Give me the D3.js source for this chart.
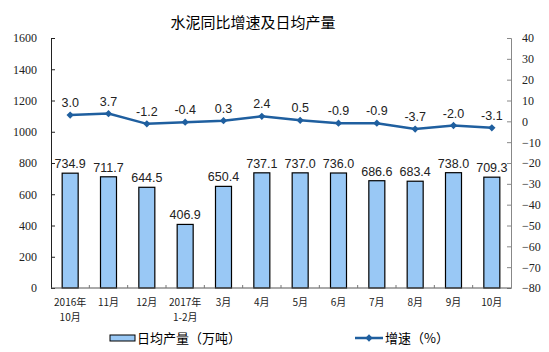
<!DOCTYPE html>
<html><head><meta charset="utf-8">
<script src="https://cdn.jsdelivr.net/npm/d3@7"></script>
<style>
body{margin:0;background:#fff;}
svg{display:block;}
</style></head>
<body>
<svg id="chart" width="549" height="352"></svg>
<script>
const title = "水泥同比增速及日均产量";
const categories = [["2016年","10月"],["11月"],["12月"],["2017年","1-2月"],["3月"],["4月"],["5月"],["6月"],["7月"],["8月"],["9月"],["10月"]];
const output = [734.9, 711.7, 644.5, 406.9, 650.4, 737.1, 737.0, 736.0, 686.6, 683.4, 738.0, 709.3];
const growth = [3.0, 3.7, -1.2, -0.4, 0.3, 2.4, 0.5, -0.9, -0.9, -3.7, -2.0, -3.1];
const leftTicks = [0, 200, 400, 600, 800, 1000, 1200, 1400, 1600];
const rightTicks = [-80, -70, -60, -50, -40, -30, -20, -10, 0, 10, 20, 30, 40];
const legendBar = "日均产量（万吨）";
const legendLine = "增速（%）";

const svg = d3.select("#chart");
const L = 51, R = 511, T = 38, B = 288;
const cjk = "'Noto Sans CJK SC', sans-serif";
const num = "'Liberation Serif', 'Times New Roman', serif";
const sans = "'Liberation Sans', Arial, sans-serif";

const xb = d3.scaleBand().domain(d3.range(categories.length)).range([L, R]);
const yL = d3.scaleLinear().domain([0, 1600]).range([B, T]);
const yR = d3.scaleLinear().domain([-80, 40]).range([B, T]);
const cx = i => xb(i) + xb.bandwidth() / 2;

svg.append("text").attr("x", 253).attr("y", 28).attr("text-anchor", "middle")
  .style("font-family", cjk).style("font-size", "15px").attr("fill", "#000").text(title);

// bars
svg.append("g").selectAll("rect").data(output).join("rect")
  .attr("x", (d, i) => cx(i) - 8)
  .attr("width", 16)
  .attr("y", d => yL(d)).attr("height", d => B - yL(d))
  .attr("fill", "#99c8f5").attr("stroke", "#000").attr("stroke-width", 1.2);

// left axis
const gL = svg.append("g").attr("transform", `translate(${L},0)`)
  .call(d3.axisLeft(yL).tickValues(leftTicks).tickSize(-4).tickPadding(14).tickFormat(d3.format("d")));
gL.select(".domain").attr("stroke", "#222");
gL.selectAll(".tick line").attr("stroke", "#222");
gL.selectAll("text").style("font-family", num).style("font-size", "12px").attr("fill", "#222");

// right axis
const gR = svg.append("g").attr("transform", `translate(${R},0)`)
  .call(d3.axisRight(yR).tickValues(rightTicks).tickSize(-4).tickPadding(11));
gR.select(".domain").attr("stroke", "#888");
gR.selectAll(".tick line").attr("stroke", "#888");
gR.selectAll("text").style("font-family", num).style("font-size", "12px").attr("fill", "#222");

// bottom axis
svg.append("line").attr("x1", L).attr("x2", R).attr("y1", B).attr("y2", B).attr("stroke", "#555");
svg.append("g").selectAll("line").data(d3.range(1, categories.length)).join("line")
  .attr("x1", i => xb(i)).attr("x2", i => xb(i)).attr("y1", B).attr("y2", B - 3).attr("stroke", "#777");

const catLines = [];
categories.forEach((c, i) => c.forEach((s, k) => catLines.push({i, k, s})));
svg.append("g").selectAll("text").data(catLines).join("text")
  .attr("x", d => cx(d.i))
  .attr("y", d => 306 + d.k * 15).attr("text-anchor", "middle")
  .style("font-family", cjk).style("font-size", "10px").attr("fill", "#222")
  .text(d => d.s);

// bar labels
svg.append("g").selectAll("text").data(output).join("text")
  .attr("x", (d, i) => cx(i))
  .attr("y", d => yL(d) - 5).attr("text-anchor", "middle")
  .style("font-family", sans).style("font-size", "12.5px").attr("fill", "#222")
  .text(d => d.toFixed(1));

// line
const lineColor = "#1f5f9f";
svg.append("path").datum(growth)
  .attr("d", d3.line().x((d, i) => cx(i)).y(d => yR(d)))
  .attr("fill", "none").attr("stroke", lineColor).attr("stroke-width", 2.5);
svg.append("g").selectAll("path").data(growth).join("path")
  .attr("d", d3.symbol(d3.symbolDiamond2, 34)())
  .attr("transform", (d, i) => `translate(${cx(i)},${yR(d)})`)
  .attr("fill", lineColor);
svg.append("g").selectAll("text").data(growth).join("text")
  .attr("x", (d, i) => cx(i)).attr("y", d => yR(d) - 8).attr("text-anchor", "middle")
  .style("font-family", sans).style("font-size", "12.5px").attr("fill", "#222")
  .text(d => d.toFixed(1));

// legend
svg.append("rect").attr("x", 110).attr("y", 335).attr("width", 25).attr("height", 6)
  .attr("fill", "#99c8f5").attr("stroke", "#000").attr("stroke-width", 1);
svg.append("text").attr("x", 137).attr("y", 343)
  .style("font-family", cjk).style("font-size", "13px").attr("fill", "#000").text(legendBar);
svg.append("line").attr("x1", 355).attr("x2", 383).attr("y1", 338).attr("y2", 338)
  .attr("stroke", lineColor).attr("stroke-width", 2.5);
svg.append("path").attr("d", d3.symbol(d3.symbolDiamond2, 34)())
  .attr("transform", "translate(369,338)").attr("fill", lineColor);
svg.append("text").attr("x", 385).attr("y", 343)
  .style("font-family", cjk).style("font-size", "13px").attr("fill", "#000").text(legendLine);
</script>
</body></html>
